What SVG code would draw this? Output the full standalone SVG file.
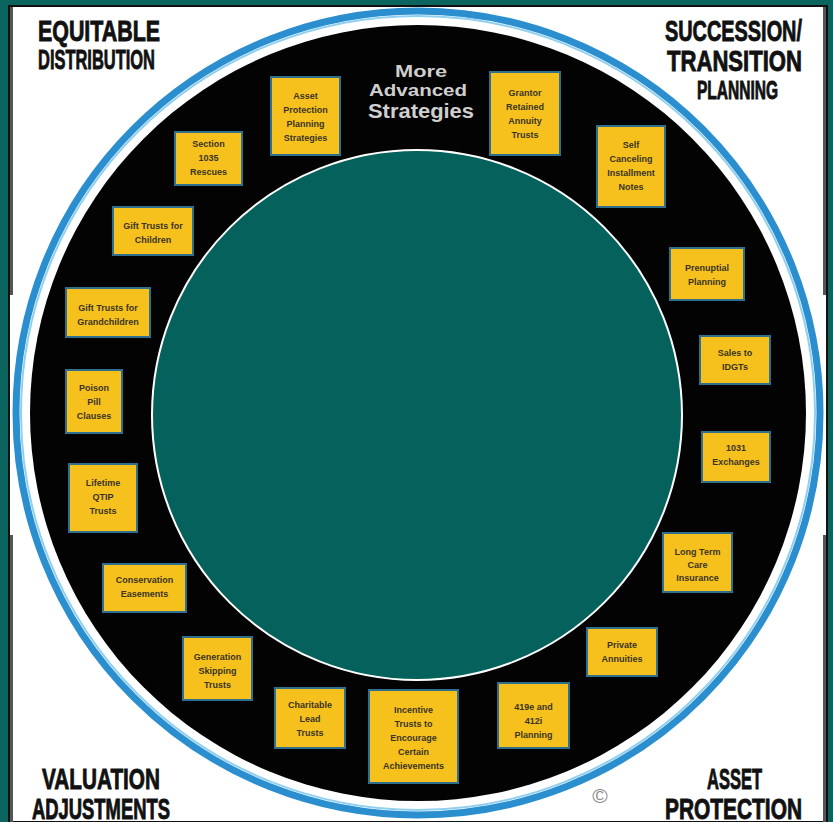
<svg xmlns="http://www.w3.org/2000/svg" width="833" height="822" viewBox="0 0 833 822">
  <defs>
    <style>
      .corner { font-family: "Liberation Sans", Arial, sans-serif; font-weight: bold; fill: #111; stroke: #111; stroke-width: 0.9; }
      .box rect { fill: #f6c11d; stroke: #2e6f8e; stroke-width: 2; }
      .box text { font-family: "Liberation Sans", Arial, sans-serif; font-size: 9px; font-weight: bold; fill: #3a3424; text-anchor: middle; }
      .title { font-family: "Liberation Sans", Arial, sans-serif; font-weight: bold; fill: #cfcfcf; text-anchor: middle; }
    </style>
  </defs>

  <!-- page background and white panel -->
  <rect x="0" y="0" width="833" height="822" fill="#0c645f"/>
  <rect x="9" y="6" width="818" height="816" fill="#ffffff" stroke="#111" stroke-width="2"/>
  <rect x="10" y="7" width="3" height="288" fill="#555"/>
  <rect x="10" y="535" width="3" height="287" fill="#555"/>
  <rect x="823" y="7" width="3" height="288" fill="#555"/>
  <rect x="823" y="535" width="3" height="287" fill="#555"/>

  <!-- wheel -->
  <g id="wheel">
    <circle cx="418" cy="413" r="402" fill="#ffffff" stroke="#2b8fcf" stroke-width="7"/>
    <circle cx="418" cy="413" r="397" fill="none" stroke="#8fd0f0" stroke-width="2"/>
    <circle cx="418" cy="413" r="388" fill="#030303"/>
    <circle cx="417" cy="415" r="265" fill="#04615c" stroke="#ffffff" stroke-width="2"/>
  </g>

  <!-- corner headings -->
  <g id="corner-equitable">
    <text class="corner" x="38" y="41" font-size="30" textLength="122" lengthAdjust="spacingAndGlyphs">EQUITABLE</text>
    <text class="corner" x="38" y="69" font-size="28" textLength="117" lengthAdjust="spacingAndGlyphs">DISTRIBUTION</text>
  </g>
  <g id="corner-succession">
    <text class="corner" x="665" y="41" font-size="30" textLength="137" lengthAdjust="spacingAndGlyphs">SUCCESSION/</text>
    <text class="corner" x="667" y="71" font-size="30" textLength="135" lengthAdjust="spacingAndGlyphs">TRANSITION</text>
    <text class="corner" x="697" y="99" font-size="26" textLength="81" lengthAdjust="spacingAndGlyphs">PLANNING</text>
  </g>
  <g id="corner-valuation">
    <text class="corner" x="42" y="789" font-size="30" textLength="118" lengthAdjust="spacingAndGlyphs">VALUATION</text>
    <text class="corner" x="32" y="819" font-size="29" textLength="138" lengthAdjust="spacingAndGlyphs">ADJUSTMENTS</text>
  </g>
  <g id="corner-asset">
    <text class="corner" x="707" y="789" font-size="29" textLength="55" lengthAdjust="spacingAndGlyphs">ASSET</text>
    <text class="corner" x="665" y="819" font-size="29" textLength="137" lengthAdjust="spacingAndGlyphs">PROTECTION</text>
  </g>

  <!-- wheel title -->
  <g id="title">
    <text class="title" x="421" y="77" font-size="17" textLength="52" lengthAdjust="spacingAndGlyphs">More</text>
    <text class="title" x="418" y="96" font-size="17" textLength="98" lengthAdjust="spacingAndGlyphs">Advanced</text>
    <text class="title" x="421" y="118" font-size="20" textLength="106" lengthAdjust="spacingAndGlyphs">Strategies</text>
  </g>

  <text x="600" y="803" font-family="Liberation Sans, Arial, sans-serif" font-size="21" fill="#8a8a8a" text-anchor="middle">©</text>

  <!-- strategy boxes -->
  <g id="asset-protection" class="box">
    <rect x="271" y="77" width="69" height="78"/>
    <text x="305.5" y="99">Asset<tspan x="305.5" dy="14">Protection</tspan><tspan x="305.5" dy="14">Planning</tspan><tspan x="305.5" dy="14">Strategies</tspan></text>
  </g>
  <g id="grat" class="box">
    <rect x="490" y="72" width="70" height="83"/>
    <text x="525" y="96">Grantor<tspan x="525" dy="14">Retained</tspan><tspan x="525" dy="14">Annuity</tspan><tspan x="525" dy="14">Trusts</tspan></text>
  </g>
  <g id="scin" class="box">
    <rect x="597" y="126" width="68" height="81"/>
    <text x="631" y="148">Self<tspan x="631" dy="14">Canceling</tspan><tspan x="631" dy="14">Installment</tspan><tspan x="631" dy="14">Notes</tspan></text>
  </g>
  <g id="section-1035" class="box">
    <rect x="175" y="132" width="67" height="53"/>
    <text x="208.5" y="147">Section<tspan x="208.5" dy="14">1035</tspan><tspan x="208.5" dy="14">Rescues</tspan></text>
  </g>
  <g id="gift-children" class="box">
    <rect x="113" y="207" width="80" height="48"/>
    <text x="153" y="229">Gift Trusts for<tspan x="153" dy="14">Children</tspan></text>
  </g>
  <g id="prenuptial" class="box">
    <rect x="670" y="248" width="74" height="52"/>
    <text x="707" y="271">Prenuptial<tspan x="707" dy="14">Planning</tspan></text>
  </g>
  <g id="gift-grandchildren" class="box">
    <rect x="66" y="288" width="84" height="49"/>
    <text x="108" y="311">Gift Trusts for<tspan x="108" dy="14">Grandchildren</tspan></text>
  </g>
  <g id="idgt" class="box">
    <rect x="700" y="336" width="70" height="48"/>
    <text x="735" y="356">Sales to<tspan x="735" dy="14">IDGTs</tspan></text>
  </g>
  <g id="poison-pill" class="box">
    <rect x="66" y="370" width="56" height="63"/>
    <text x="94" y="391">Poison<tspan x="94" dy="14">Pill</tspan><tspan x="94" dy="14">Clauses</tspan></text>
  </g>
  <g id="exchanges-1031" class="box">
    <rect x="702" y="432" width="68" height="50"/>
    <text x="736" y="451">1031<tspan x="736" dy="14">Exchanges</tspan></text>
  </g>
  <g id="qtip" class="box">
    <rect x="69" y="464" width="68" height="68"/>
    <text x="103" y="486">Lifetime<tspan x="103" dy="14">QTIP</tspan><tspan x="103" dy="14">Trusts</tspan></text>
  </g>
  <g id="ltc" class="box">
    <rect x="663" y="533" width="69" height="59"/>
    <text x="697.5" y="555">Long Term<tspan x="697.5" dy="13">Care</tspan><tspan x="697.5" dy="13">Insurance</tspan></text>
  </g>
  <g id="conservation" class="box">
    <rect x="103" y="564" width="83" height="48"/>
    <text x="144.5" y="583">Conservation<tspan x="144.5" dy="14">Easements</tspan></text>
  </g>
  <g id="private-annuities" class="box">
    <rect x="587" y="628" width="70" height="48"/>
    <text x="622" y="648">Private<tspan x="622" dy="14">Annuities</tspan></text>
  </g>
  <g id="gst" class="box">
    <rect x="183" y="637" width="69" height="63"/>
    <text x="217.5" y="660">Generation<tspan x="217.5" dy="14">Skipping</tspan><tspan x="217.5" dy="14">Trusts</tspan></text>
  </g>
  <g id="clt" class="box">
    <rect x="275" y="688" width="70" height="60"/>
    <text x="310" y="708">Charitable<tspan x="310" dy="14">Lead</tspan><tspan x="310" dy="14">Trusts</tspan></text>
  </g>
  <g id="incentive" class="box">
    <rect x="369" y="690" width="89" height="93"/>
    <text x="413.5" y="713">Incentive<tspan x="413.5" dy="14">Trusts to</tspan><tspan x="413.5" dy="14">Encourage</tspan><tspan x="413.5" dy="14">Certain</tspan><tspan x="413.5" dy="14">Achievements</tspan></text>
  </g>
  <g id="plan-419e" class="box">
    <rect x="498" y="683" width="71" height="65"/>
    <text x="533.5" y="710">419e and<tspan x="533.5" dy="14">412i</tspan><tspan x="533.5" dy="14">Planning</tspan></text>
  </g>

  <!-- no connectors in this diagram -->
  <g id="connectors"/>
</svg>
